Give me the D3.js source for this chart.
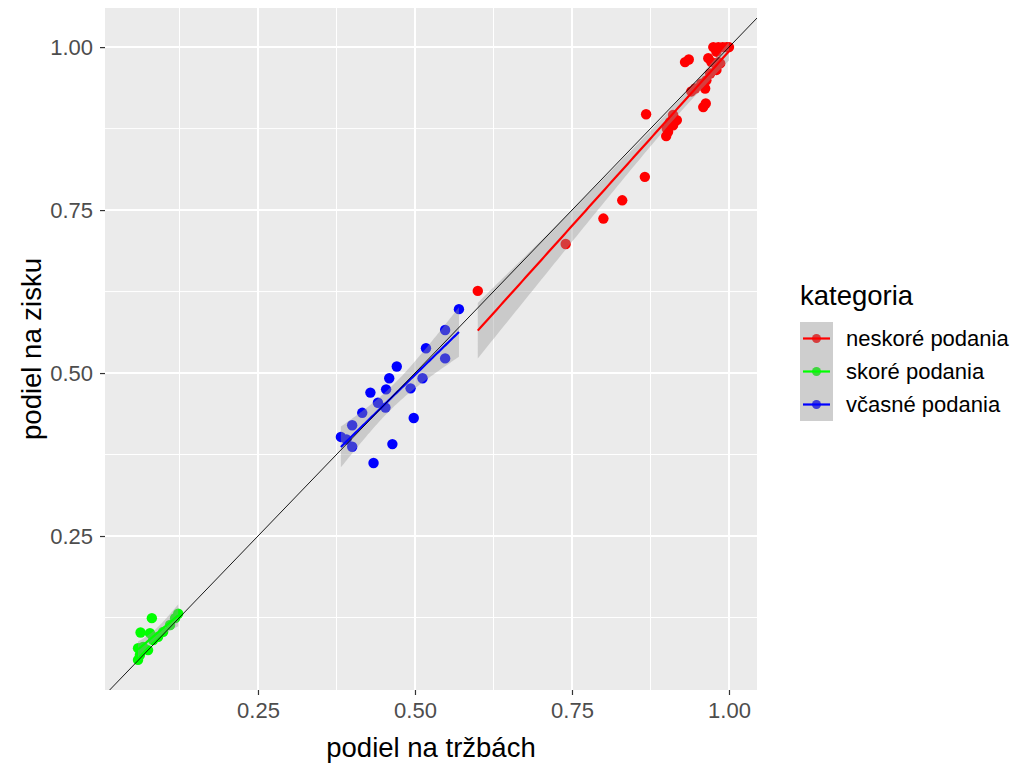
<!DOCTYPE html>
<html>
<head>
<meta charset="utf-8">
<script src="https://cdn.jsdelivr.net/npm/d3@7"></script>
<style>
body { margin: 0; background: #fff; }
text { font-family: "Liberation Sans", Arial, sans-serif; }
</style>
</head>
<body>
<svg id="chart" width="1031" height="766"></svg>
<script>
// data
const categories = ["neskoré podania", "skoré podania", "včasné podania"];
const colors = ["#FF0000", "#00FF00", "#0000FF"];

const neskoreX = [0.600, 0.740, 0.800, 0.830, 0.866, 0.868, 0.900, 0.903, 0.901, 0.911, 0.906, 0.917, 0.911,
  0.930, 0.936, 0.940, 0.946, 0.962, 0.956, 0.964, 0.970, 0.980, 0.986, 0.972, 0.967,
  0.975, 0.983, 0.990, 0.996, 1.000, 0.980, 0.983, 0.963, 0.959];
const neskoreY = [0.626, 0.698, 0.737, 0.765, 0.801, 0.897, 0.8635, 0.870, 0.875, 0.880, 0.885, 0.888, 0.896,
  0.977, 0.981, 0.932, 0.9365, 0.9365, 0.944, 0.949, 0.9596, 0.965, 0.975, 0.977, 0.983,
  1.000, 1.000, 1.000, 1.000, 1.000, 0.993, 0.977, 0.9135, 0.908];

const skoreX = [0.081, 0.063, 0.078, 0.123, 0.118, 0.110, 0.099, 0.091, 0.083, 0.059, 0.067, 0.062, 0.059, 0.075];
const skoreY = [0.124, 0.102, 0.101, 0.131, 0.124, 0.1135, 0.103, 0.0955, 0.0905, 0.078, 0.080, 0.0675, 0.060, 0.075];

const vcasneX = [0.570, 0.548, 0.548, 0.5175, 0.512, 0.493, 0.498, 0.471, 0.459, 0.454, 0.429, 0.441, 0.453,
  0.416, 0.400, 0.382, 0.391, 0.400, 0.464, 0.434];
const vcasneY = [0.598, 0.566, 0.5225, 0.538, 0.492, 0.4765, 0.431, 0.510, 0.492, 0.475, 0.470, 0.4545, 0.447,
  0.439, 0.420, 0.402, 0.398, 0.387, 0.391, 0.362];

const xTicks = [0.25, 0.50, 0.75, 1.00];
const yTicks = [0.25, 0.50, 0.75, 1.00];
const minorTicks = [0.125, 0.375, 0.625, 0.875];

const groups = [
  { name: categories[0], color: colors[0], xs: neskoreX, ys: neskoreY },
  { name: categories[1], color: colors[1], xs: skoreX, ys: skoreY },
  { name: categories[2], color: colors[2], xs: vcasneX, ys: vcasneY }
];

const svg = d3.select('#chart');
const panel = { left: 105, top: 8, right: 757, bottom: 690 };

const x = d3.scaleLinear().domain([0.0064, 1.0446]).range([panel.left, panel.right]);
const y = d3.scaleLinear().domain([0.0138, 1.06]).range([panel.bottom, panel.top]);

svg.append('defs').append('clipPath').attr('id', 'clip')
  .append('rect')
  .attr('x', panel.left).attr('y', panel.top)
  .attr('width', panel.right - panel.left).attr('height', panel.bottom - panel.top);

svg.append('rect')
  .attr('x', panel.left).attr('y', panel.top)
  .attr('width', panel.right - panel.left).attr('height', panel.bottom - panel.top)
  .attr('fill', '#EBEBEB');

const plot = svg.append('g').attr('clip-path', 'url(#clip)');

// grid
minorTicks.forEach(t => {
  plot.append('line').attr('x1', x(t)).attr('x2', x(t)).attr('y1', panel.top).attr('y2', panel.bottom)
    .attr('stroke', '#fff').attr('stroke-width', 1);
  plot.append('line').attr('y1', y(t)).attr('y2', y(t)).attr('x1', panel.left).attr('x2', panel.right)
    .attr('stroke', '#fff').attr('stroke-width', 1);
});
xTicks.forEach(t => {
  plot.append('line').attr('x1', x(t)).attr('x2', x(t)).attr('y1', panel.top).attr('y2', panel.bottom)
    .attr('stroke', '#fff').attr('stroke-width', 2);
});
yTicks.forEach(t => {
  plot.append('line').attr('y1', y(t)).attr('y2', y(t)).attr('x1', panel.left).attr('x2', panel.right)
    .attr('stroke', '#fff').attr('stroke-width', 2);
});

// points
groups.forEach(g => {
  plot.selectAll(null)
    .data(g.xs.map((v, i) => [v, g.ys[i]]))
    .enter().append('circle')
    .attr('cx', d => x(d[0]))
    .attr('cy', d => y(d[1]))
    .attr('r', 5.2)
    .attr('fill', g.color);
});

// lm smooth with 95% band (like geom_smooth(method = "lm"))
function tQuant(df) {
  const z = 1.959964;
  const g1 = (Math.pow(z, 3) + z) / 4;
  const g2 = (5 * Math.pow(z, 5) + 16 * Math.pow(z, 3) + 3 * z) / 96;
  const g3 = (3 * Math.pow(z, 7) + 19 * Math.pow(z, 5) + 17 * Math.pow(z, 3) - 15 * z) / 384;
  return z + g1 / df + g2 / (df * df) + g3 / (df * df * df);
}

function lmFit(xs, ys) {
  const n = xs.length;
  const mx = d3.mean(xs), my = d3.mean(ys);
  let sxx = 0, sxy = 0;
  xs.forEach((v, i) => { sxx += (v - mx) * (v - mx); sxy += (v - mx) * (ys[i] - my); });
  const b = sxy / sxx, a = my - b * mx;
  let sse = 0;
  xs.forEach((v, i) => { const r = ys[i] - (a + b * v); sse += r * r; });
  const s = Math.sqrt(sse / (n - 2));
  const t = tQuant(n - 2);
  const lo = d3.min(xs), hi = d3.max(xs);
  return d3.range(80).map(k => {
    const xv = lo + (hi - lo) * k / 79;
    const fit = a + b * xv;
    const se = s * Math.sqrt(1 / n + (xv - mx) * (xv - mx) / sxx);
    return { x: xv, fit: fit, lo: fit - t * se, hi: fit + t * se };
  });
}

groups.forEach(g => {
  const pred = lmFit(g.xs, g.ys);
  plot.append('path')
    .datum(pred)
    .attr('d', d3.area().x(d => x(d.x)).y0(d => y(d.lo)).y1(d => y(d.hi)))
    .attr('fill', '#999999').attr('fill-opacity', 0.4);
  plot.append('path')
    .datum(pred)
    .attr('d', d3.line().x(d => x(d.x)).y(d => y(d.fit)))
    .attr('fill', 'none').attr('stroke', g.color).attr('stroke-width', 2.2);
});

// y = x reference line
plot.append('line')
  .attr('x1', x(0)).attr('y1', y(0))
  .attr('x2', x(1.1)).attr('y2', y(1.1))
  .attr('stroke', '#000').attr('stroke-width', 0.9);

// axes
const xAxis = svg.append('g')
  .attr('transform', `translate(0,${panel.bottom})`)
  .call(d3.axisBottom(x).tickValues(xTicks).tickFormat(d3.format('.2f')).tickSize(5).tickPadding(7));
const yAxis = svg.append('g')
  .attr('transform', `translate(${panel.left},0)`)
  .call(d3.axisLeft(y).tickValues(yTicks).tickFormat(d3.format('.2f')).tickSize(5).tickPadding(7));
[xAxis, yAxis].forEach(a => {
  a.select('.domain').remove();
  a.selectAll('.tick line').attr('stroke', '#333333').attr('stroke-width', 1.2);
  a.selectAll('.tick text').attr('fill', '#4D4D4D').attr('font-size', 22)
    .attr('font-family', '"Liberation Sans", Arial, sans-serif');
});

svg.append('text')
  .attr('x', (panel.left + panel.right) / 2).attr('y', 757)
  .attr('text-anchor', 'middle').attr('font-size', 27.5).attr('fill', '#000')
  .text('podiel na tržbách');

svg.append('text')
  .attr('transform', `translate(41,${(panel.top + panel.bottom) / 2}) rotate(-90)`)
  .attr('text-anchor', 'middle').attr('font-size', 27.5).attr('fill', '#000')
  .text('podiel na zisku');

// legend
const legend = svg.append('g');
legend.append('text')
  .attr('x', 800).attr('y', 305)
  .attr('font-size', 27.5).attr('fill', '#000')
  .text('kategoria');

categories.forEach((c, i) => {
  const ky = 322 + i * 33;
  legend.append('rect').attr('x', 800).attr('y', ky).attr('width', 33).attr('height', 33).attr('fill', '#F2F2F2');
  legend.append('circle').attr('cx', 816.5).attr('cy', ky + 16.5).attr('r', 4.5).attr('fill', colors[i]);
  legend.append('rect').attr('x', 800).attr('y', ky).attr('width', 33).attr('height', 33)
    .attr('fill', '#999999').attr('fill-opacity', 0.4);
  legend.append('line').attr('x1', 803).attr('x2', 830).attr('y1', ky + 16.5).attr('y2', ky + 16.5)
    .attr('stroke', colors[i]).attr('stroke-width', 2.2);
  legend.append('text')
    .attr('x', 846).attr('y', ky + 16.5 + 7.5)
    .attr('font-size', 22).attr('fill', '#000')
    .text(c);
});
</script>
</body>
</html>
